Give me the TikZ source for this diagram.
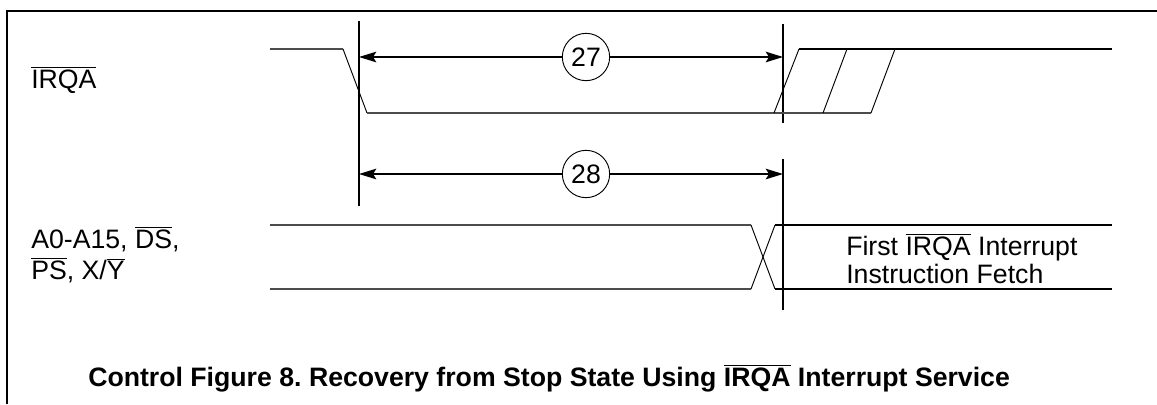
\documentclass[tikz,border=0pt]{standalone}
\usepackage{fontspec}
\setmainfont{Liberation Sans}
\usetikzlibrary{arrows.meta}
\newcommand{\nbar}[1]{$\overline{\mbox{#1}}$}
\frenchspacing

\begin{document}
\begin{tikzpicture}[x=0.75pt,y=-0.75pt]
\tikzstyle{frameline} = [draw, line width=1.5pt];
\tikzstyle{tick} = [draw, line width=1.2pt];
\tikzstyle{signal} = [draw=black!70, line width=0.9pt];
\tikzstyle{signalb} = [draw, line width=1.1pt];
\tikzstyle{slope} = [draw, line width=0.7pt];
\tikzstyle{span} = [draw, line width=1pt, {Stealth[length=13pt,width=8pt,inset=2.5pt]}-{Stealth[length=13pt,width=8pt,inset=2.5pt]}];
\tikzstyle{label} = [anchor=base west, inner sep=0pt, font=\fontsize{20pt}{24pt}\selectfont];
\tikzstyle{caption} = [anchor=base west, inner sep=0pt, font=\fontsize{20pt}{24pt}\selectfont\bfseries];
\tikzstyle{number} = [circle, draw, line width=0.7pt, fill=white, minimum size=35.5pt, inner sep=0pt, font=\fontsize{20pt}{24pt}\selectfont];
\useasboundingbox (0,0) rectangle (1157,404);
\path[frameline] (6.5,404) -- (6.5,11) -- (1157,11);
% cursors
\coordinate (tickAtop) at (359,21);
\coordinate (tickAbot) at (359,206);
\coordinate (tickBtop) at (783,24);
\coordinate (tickBbot) at (783,123);
\coordinate (tickCtop) at (783,159);
\coordinate (tickCbot) at (783,310);
\path[tick] (tickAtop) -- (tickAbot);
\path[tick] (tickBtop) -- (tickBbot);
\path[tick] (tickCtop) -- (tickCbot);
% signal names
\node [label] (irqa) at (31,88) {\nbar{IRQA}};
\node [label] (busone) at (31,248) {A0-A15, \nbar{DS},};
\node [label] (bustwo) at (31,279) {\nbar{PS}, X/\nbar{Y}};
\node [label] (firstone) at (846,255) {First \nbar{IRQA} Interrupt};
\node [label] (firsttwo) at (846,283) {Instruction Fetch};
\node [caption] (caption) at (88,386) {Control Figure 8. Recovery from Stop State Using \nbar{IRQA} Interrupt Service};
% IRQA wave
\path[signal] (270,49) -- (343,49);
\path[slope] (343,49) -- (367,113);
\path[signal] (367,113) -- (871,113);
\path[slope] (774,113) -- (799,49);
\path[slope] (823,113) -- (847,49);
\path[slope] (871,113) -- (895,49);
\path[signalb] (799,49) -- (1112,49);
% bus wave
\path[signal] (270,225) -- (751,225);
\path[signal] (270,289) -- (751,289);
\path[slope] (751,225) -- (775,289);
\path[slope] (751,289) -- (775,225);
\path[signalb] (775,225) -- (1112,225);
\path[signalb] (775,289) -- (1112,289);
% timing numbers
\coordinate (spanAl) at (359,57);
\coordinate (spanAr) at (783,57);
\coordinate (spanBl) at (359,174);
\coordinate (spanBr) at (783,174);
\path[span] (spanAl) -- (spanAr);
\path[span] (spanBl) -- (spanBr);
\node [number] (twoseven) at (586,57) {27};
\node [number] (twoeight) at (586,174) {28};
\end{tikzpicture}
\end{document}
